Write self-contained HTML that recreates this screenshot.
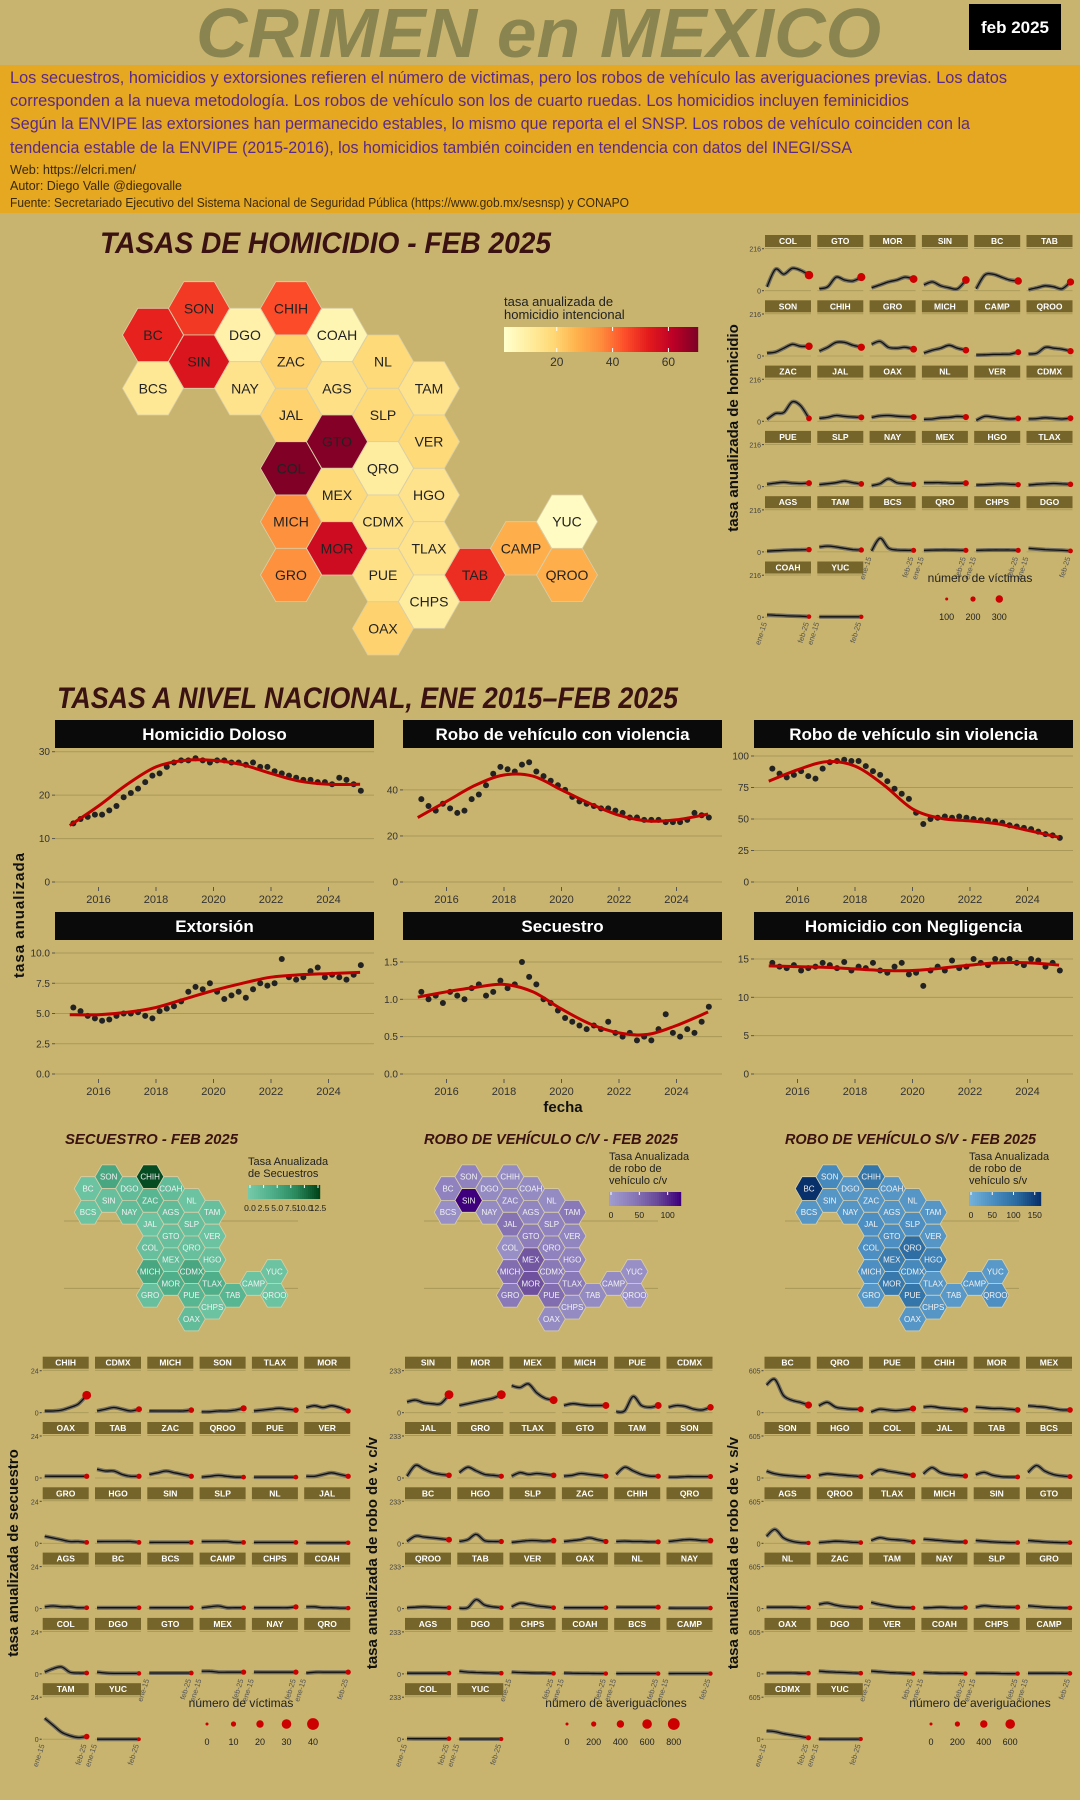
<!DOCTYPE html>
<html><head><meta charset="utf-8"><style>
html,body{margin:0;padding:0;background:#c8b46e;}
svg{display:block;font-family:"Liberation Sans",sans-serif;}
</style></head><body>
<svg id="page" xmlns="http://www.w3.org/2000/svg" width="1080" height="1800" viewBox="0 0 1080 1800">
<rect x="0" y="0" width="1080" height="1800" fill="#c8b46e"/>
<text x="196" y="57" font-size="70" font-weight="bold" font-style="italic" fill="#8a8450" textLength="685" lengthAdjust="spacingAndGlyphs">CRIMEN en MEXICO</text>
<rect x="969" y="4" width="92" height="46" fill="#000"/>
<text x="1015" y="33" font-size="17" font-weight="bold" fill="#fff" text-anchor="middle">feb 2025</text>
<rect x="0" y="65" width="1080" height="148" fill="#e6a820"/>
<g fill="#5a2a8a" font-size="17">
<text x="10" y="83" textLength="997" lengthAdjust="spacingAndGlyphs">Los secuestros, homicidios y extorsiones refieren el número de victimas, pero los robos de vehículo las averiguaciones previas. Los datos</text>
<text x="10" y="106" textLength="899" lengthAdjust="spacingAndGlyphs">corresponden a la nueva metodología. Los robos de vehículo son los de cuarto ruedas. Los homicidios incluyen feminicidios</text>
<text x="10" y="129" textLength="960" lengthAdjust="spacingAndGlyphs">Según la ENVIPE las extorsiones han permanecido estables, lo mismo que reporta el el SNSP. Los robos de vehículo coinciden con la</text>
<text x="10" y="153" textLength="842" lengthAdjust="spacingAndGlyphs">tendencia estable de la ENVIPE (2015-2016), los homicidios también coinciden en tendencia con datos del INEGI/SSA</text>
</g>
<g fill="#3a2a10" font-size="12.5">
<text x="10" y="174" textLength="126" lengthAdjust="spacingAndGlyphs">Web: https://elcri.men/</text>
<text x="10" y="190" textLength="172" lengthAdjust="spacingAndGlyphs">Autor: Diego Valle @diegovalle</text>
<text x="10" y="207" textLength="619" lengthAdjust="spacingAndGlyphs">Fuente: Secretariado Ejecutivo del Sistema Nacional de Seguridad Pública (https://www.gob.mx/sesnsp) y CONAPO</text>
</g>
<text x="100" y="253" font-size="30" font-weight="bold" font-style="italic" fill="#3a1212" textLength="451" lengthAdjust="spacingAndGlyphs">TASAS DE HOMICIDIO - FEB 2025</text>
<text x="57" y="708" font-size="30" font-weight="bold" font-style="italic" fill="#3a1212" textLength="621" lengthAdjust="spacingAndGlyphs">TASAS A NIVEL NACIONAL, ENE 2015–FEB 2025</text>
<text x="65" y="1144" font-size="15" font-weight="bold" font-style="italic" fill="#3a1212" textLength="173" lengthAdjust="spacingAndGlyphs">SECUESTRO - FEB 2025</text>
<text x="424" y="1144" font-size="15" font-weight="bold" font-style="italic" fill="#3a1212" textLength="254" lengthAdjust="spacingAndGlyphs">ROBO DE VEHÍCULO C/V - FEB 2025</text>
<text x="785" y="1144" font-size="15" font-weight="bold" font-style="italic" fill="#3a1212" textLength="251" lengthAdjust="spacingAndGlyphs">ROBO DE VEHÍCULO S/V - FEB 2025</text>
<g id="layer"></g>
</svg>
<script>
// ---------- DATA ----------
const hexStates = ["BC","SON","SIN","BCS","DGO","NAY","CHIH","ZAC","JAL","COAH","AGS","GTO","COL","MEX","MICH","GRO","MOR","NL","SLP","QRO","CDMX","PUE","OAX","TAM","VER","HGO","TLAX","CHPS","TAB","CAMP","YUC","QROO"];
const hexCol = [0,1,1,0,2,2,3,3,3,4,4,4,3,4,3,3,4,5,5,5,5,5,5,6,6,6,6,6,7,8,9,9];
const hexRow = [1,0,2,3,1,3,0,2,4,1,3,5,6,7,8,10,9,2,4,6,8,10,12,3,5,7,9,11,10,9,8,10];
const homRate = [52,48,55,12,8,14,45,20,20,6,15,70,72,18,35,35,58,18,18,10,15,15,20,14,18,14,14,10,50,28,3,28];
const kidRate = [1,5,1.5,1,2,2,12,3,1,2,2,1.5,1.5,2,5,1.5,4,1,1.5,1.5,5,3,2,1.5,1,1.5,4,1,3,1,1,1];
const cvRate = [30,30,120,15,20,20,20,25,45,20,25,35,15,70,50,40,75,20,30,30,40,50,20,40,25,30,40,20,20,20,15,15];
const svRate = [160,60,40,40,40,40,90,40,50,40,40,50,50,80,50,40,85,40,50,100,60,90,40,40,40,70,40,40,35,40,35,50];
const homLegendTicks = ["20","40","60"];
const years = ["2016","2018","2020","2022","2024"];
const natTitles = ["Homicidio Doloso","Robo de vehículo con violencia","Robo de vehículo sin violencia","Extorsión","Secuestro","Homicidio con Negligencia"];
const natTicks = [[0,10,20,30],[0,20,40],[0,25,50,75,100],[0,2.5,5,7.5,10],[0,0.5,1,1.5],[0,5,10,15]];
const natTickLabels = [["0","10","20","30"],["0","20","40"],["0","25","50","75","100"],["0.0","2.5","5.0","7.5","10.0"],["0.0","0.5","1.0","1.5"],["0","5","10","15"]];
const natMax = [30,56.6,103.4,10,1.62,15.78];
const hdPts = [13.5,14.5,15,15.5,15.5,16.5,17.5,19.5,20.5,21.5,23,24.5,25,26.5,27.5,28,28,28.5,28,27.5,28,28,27.5,27.5,27,27.5,26.5,26.5,25.5,25,24.5,24,23.5,23.5,23,23,22.5,24,23.5,22.5,21];
const hdTrend = [13,17.5,22.5,26.5,28,28,27,25,23.2,22.5,22.5];
const cvPts = [36,33,31,34,32,30,31,36,38,42,47,50,49,48,51,52,48,46,44,42,40,37,35,34,33,32,32,31,30,28,28,27,27,27,26,26,26,27,30,29,28];
const cvTrend = [28,35,42,46.5,46,40,34,29,26.5,27,29.5];
const svPts = [90,86,83,85,88,84,82,90,95,96,97,96,96,92,88,85,80,74,70,66,55,46,50,51,52,51,52,51,50,49,49,48,47,45,44,43,42,40,38,37,35];
const svTrend = [80,89,95.5,92,77,58,50.5,48.5,46,41,35.5];
const exPts = [5.5,5.2,4.8,4.6,4.4,4.5,4.8,5.0,5.0,5.1,4.8,4.6,5.2,5.4,5.6,6.0,6.8,7.2,7.0,7.5,6.8,6.2,6.5,6.8,6.3,7.0,7.5,7.3,7.5,9.5,8.0,7.8,8.0,8.5,8.8,8.0,8.2,8.0,7.8,8.2,9.0];
const exTrend = [4.9,4.9,5.1,5.5,6.2,6.9,7.5,8.0,8.2,8.3,8.4];
const sePts = [1.1,1.0,1.05,0.95,1.1,1.05,1.0,1.15,1.2,1.05,1.1,1.25,1.15,1.2,1.5,1.3,1.2,1.0,0.95,0.85,0.75,0.7,0.65,0.6,0.65,0.6,0.7,0.55,0.5,0.55,0.45,0.5,0.45,0.6,0.8,0.55,0.5,0.6,0.55,0.7,0.9];
const seTrend = [1.03,1.1,1.16,1.2,1.1,0.87,0.67,0.55,0.53,0.65,0.83];
const hnPts = [14.5,14,13.8,14.2,13.5,13.8,14,14.5,14.2,13.8,14.6,13.5,14,13.8,14.5,13.5,13.2,14,14.5,13,13.2,11.5,13.5,14,13.5,14.8,13.8,14,15,14.5,14.2,15,14.8,15,14.5,14.2,15,14.8,14,14.5,13.5];
const hnTrend = [14.1,14.0,13.9,13.7,13.5,13.5,13.8,14.2,14.5,14.5,14.2];
const natPts = [hdPts,cvPts,svPts,exPts,sePts,hnPts];
const natTrend = [hdTrend,cvTrend,svTrend,exTrend,seTrend,hnTrend];

const homOrder = ["COL","GTO","MOR","SIN","BC","TAB","SON","CHIH","GRO","MICH","CAMP","QROO","ZAC","JAL","OAX","NL","VER","CDMX","PUE","SLP","NAY","MEX","HGO","TLAX","AGS","TAM","BCS","QRO","CHPS","DGO","COAH","YUC"];
const homSeries = {COL:[20,110,85,115,105,80],GTO:[10,20,70,55,50,70],MOR:[15,30,45,55,70,60],SIN:[30,45,25,15,10,55],BC:[10,80,85,70,55,50],TAB:[5,15,25,20,10,45],SON:[15,20,40,60,50,50],CHIH:[25,45,70,70,55,45],GRO:[60,75,45,40,45,35],MICH:[15,30,40,55,40,30],CAMP:[5,6,8,9,10,20],QROO:[10,15,45,40,35,25],ZAC:[10,40,45,100,80,15],JAL:[15,20,30,25,22,20],OAX:[20,28,30,26,24,22],NL:[10,12,18,20,25,22],VER:[5,25,22,16,12,15],CDMX:[12,14,18,15,12,16],PUE:[12,18,22,18,16,18],SLP:[10,15,20,28,20,14],NAY:[5,15,40,20,15,12],MEX:[20,20,20,18,17,18],HGO:[8,10,12,14,12,10],TLAX:[8,12,14,16,14,12],AGS:[4,6,8,10,11,12],TAM:[25,30,25,18,12,10],BCS:[5,70,20,10,8,8],QRO:[8,9,10,10,9,8],CHPS:[8,9,10,10,10,8],DGO:[18,15,12,10,8,5],COAH:[12,10,8,6,5,3],YUC:[2,2,2,2,2,2]};
const kidOrder = ["CHIH","CDMX","MICH","SON","TLAX","MOR","OAX","TAB","ZAC","QROO","PUE","VER","GRO","HGO","SIN","SLP","NL","JAL","AGS","BC","BCS","CAMP","CHPS","COAH","COL","DGO","GTO","MEX","NAY","QRO","TAM","YUC"];
const kidSeries = {CHIH:[1,1,1.5,3,5,10],CDMX:[1,2,3,2,1,2],MICH:[1,1,1,1,1,1.5],SON:[0.5,0.5,1,1,1.5,2.5],TLAX:[1,1.5,2,2.5,2,1.5],MOR:[3,4,3,4,3,1],OAX:[1,1,1,1,1,1],TAB:[5,4,4,2,1,1],ZAC:[2,3,4,3,2,1],QROO:[0.5,1,1.5,1,0.5,0.5],PUE:[0.5,0.5,0.5,0.5,0.5,0.5],VER:[1,1,2,3,2,1],GRO:[4,3,2,1,1,0.5],HGO:[1,1,1,1,1,0.5],SIN:[0.5,0.5,0.5,0.5,0.5,0.5],SLP:[1,1,1,1,0.5,0.5],NL:[0.5,0.5,0.5,0.5,0.5,0.5],JAL:[0.3,0.3,0.3,0.3,0.3,0.3],AGS:[1,1.5,1,1,0.5,0.5],BC:[0.5,0.5,0.5,0.5,0.5,0.5],BCS:[0.5,0.5,0.5,0.5,0.5,0.5],CAMP:[0.5,1,1.5,0.5,0.5,0.5],CHPS:[0.5,0.5,0.5,0.5,0.5,1],COAH:[1,1,0.5,0.5,0.3,0.3],COL:[1,3,4,1,0.5,0.5],DGO:[1,0.5,0.3,0.3,0.3,0.3],GTO:[0.5,0.5,0.5,0.5,0.5,0.5],MEX:[1.5,1.5,1,1,1,1],NAY:[1,1,1,1,1,1],QRO:[0.5,1,1,1,1,1],TAM:[12,8,4,2,1,1.5],YUC:[0,0,0,0,0,0]};
const cvOrder = ["SIN","MOR","MEX","MICH","PUE","CDMX","JAL","GRO","TLAX","GTO","TAM","SON","BC","HGO","SLP","ZAC","CHIH","QRO","QROO","TAB","VER","OAX","NL","NAY","AGS","DGO","CHPS","COAH","BCS","CAMP","COL","YUC"];
const cvSeries = {SIN:[60,70,55,50,50,100],MOR:[40,50,60,70,80,100],MEX:[150,140,160,110,80,70],MICH:[40,50,45,40,40,40],PUE:[5,10,90,40,30,40],CDMX:[30,40,35,20,15,30],JAL:[10,70,50,30,20,15],GRO:[30,60,40,20,15,10],TLAX:[10,30,20,25,20,15],GTO:[10,15,25,20,15,10],TAM:[20,60,40,20,10,10],SON:[5,5,8,8,8,8],BC:[10,40,35,30,25,20],HGO:[10,20,50,15,10,10],SLP:[5,10,15,15,12,15],ZAC:[10,15,20,30,20,10],CHIH:[10,12,10,10,8,8],QRO:[10,15,20,20,15,15],QROO:[5,8,10,8,6,5],TAB:[2,5,50,20,10,5],VER:[10,30,25,15,10,5],OAX:[5,5,5,5,5,5],NL:[8,8,8,8,8,8],NAY:[3,3,3,3,3,3],AGS:[4,4,4,4,4,4],DGO:[15,10,8,6,5,4],CHPS:[10,8,6,5,5,3],COAH:[5,4,3,3,2,2],BCS:[2,2,2,2,2,2],CAMP:[2,2,2,2,2,2],COL:[3,3,3,3,3,3],YUC:[1,1,1,1,1,1]};
const svOrder = ["BC","QRO","PUE","CHIH","MOR","MEX","SON","HGO","COL","JAL","TAB","BCS","AGS","QROO","TLAX","MICH","SIN","GTO","NL","ZAC","TAM","NAY","SLP","GRO","OAX","DGO","VER","COAH","CHPS","CAMP","CDMX","YUC"];
const svSeries = {BC:[400,480,250,180,150,110],QRO:[100,150,80,60,50,50],PUE:[10,50,40,30,40,60],CHIH:[80,90,70,60,50,40],MOR:[80,70,60,60,50,40],MEX:[100,90,80,60,40,40],SON:[100,60,40,30,20,20],HGO:[40,60,50,40,30,20],COL:[50,120,100,80,60,40],JAL:[60,150,80,50,40,30],TAB:[50,80,40,20,15,15],BCS:[80,180,100,50,30,20],AGS:[100,200,80,30,10,5],QROO:[10,20,30,25,15,10],TLAX:[40,80,60,50,40,20],MICH:[60,50,40,30,20,20],SIN:[40,30,20,15,10,10],GTO:[40,30,20,15,10,10],NL:[20,20,20,20,15,15],ZAC:[60,80,50,30,20,15],TAM:[90,60,40,20,15,10],NAY:[10,15,20,15,10,15],SLP:[20,40,30,25,20,20],GRO:[40,30,20,15,10,10],OAX:[15,15,15,15,10,10],DGO:[40,30,25,20,15,10],VER:[40,30,20,15,10,5],COAH:[20,15,10,10,8,5],CHPS:[10,10,8,6,5,5],CAMP:[10,10,10,10,8,8],CDMX:[120,110,80,60,40,20],YUC:[2,2,2,2,2,2]};
const sizeLegend1 = ["100","200","300"];
const sizeLegend2 = ["0","10","20","30","40"];
const sizeLegend3 = ["0","200","400","600","800"];
const sizeLegend4 = ["0","200","400","600"];

// ---------- HELPERS ----------
const NS = "http://www.w3.org/2000/svg";
const layer = document.getElementById("layer");
function mk(tag, attrs, parent){ const e=document.createElementNS(NS,tag); for(const k in attrs) e.setAttribute(k,attrs[k]); (parent||layer).appendChild(e); return e; }
function txt(s,attrs,parent){ const e=mk("text",attrs,parent); e.textContent=s; return e; }
function lerpHex(a,b,t){ const pa=[1,3,5].map(i=>parseInt(a.substr(i,2),16)), pb=[1,3,5].map(i=>parseInt(b.substr(i,2),16)); return "rgb("+pa.map((v,i)=>Math.round(v+(pb[i]-v)*t)).join(",")+")"; }
function ramp(stops,t){ t=Math.max(0,Math.min(1,t)); const n=stops.length-1, i=Math.min(n-1,Math.floor(t*n)); return lerpHex(stops[i],stops[i+1],t*n-i); }
const ylorrd=["#ffffcc","#ffeda0","#fed976","#feb24c","#fd8d3c","#fc4e2a","#e31a1c","#bd0026","#800026"];
const greens=["#74c9a8","#4fae8a","#2a8a5e","#00441b"];
const purples=["#a09cce","#8a79b8","#6a4a9a","#3f007d"];
const blues=["#74b1da","#4a8dc0","#2a6aa0","#08306b"];
function hexPts(cx,cy,w,h){ return [[cx-w/2,cy],[cx-w/4,cy-h/2],[cx+w/4,cy-h/2],[cx+w/2,cy],[cx+w/4,cy+h/2],[cx-w/4,cy+h/2]].map(p=>p[0].toFixed(1)+","+p[1].toFixed(1)).join(" "); }
function smooth(pts){ let d="M"+pts[0][0]+","+pts[0][1]; for(let i=0;i<pts.length-1;i++){ const p0=pts[Math.max(0,i-1)],p1=pts[i],p2=pts[i+1],p3=pts[Math.min(pts.length-1,i+2)]; const c1=[p1[0]+(p2[0]-p0[0])/6,p1[1]+(p2[1]-p0[1])/6], c2=[p2[0]-(p3[0]-p1[0])/6,p2[1]-(p3[1]-p1[1])/6]; d+=" C"+c1[0].toFixed(1)+","+c1[1].toFixed(1)+" "+c2[0].toFixed(1)+","+c2[1].toFixed(1)+" "+p2[0].toFixed(1)+","+p2[1].toFixed(1);} return d; }

// ---------- HEX MAPS ----------
function hexMap(name, ox, oy, cs, rs, w, h, vals, vmin, vmax, stops, fs, lblColor){
  const g=mk("g",{});
  
  
  hexStates.forEach((s,i)=>{
    const cx=ox+hexCol[i]*cs, cy=oy+hexRow[i]*rs;
    const p=mk("polygon",{points:hexPts(cx,cy,w,h),fill:ramp(stops,(vals[i]-vmin)/(vmax-vmin)),stroke:"#d9cfa8","stroke-width":0.8},g);
    
    
    const t=txt(s,{x:cx,y:cy+fs*0.36,"font-size":fs,"text-anchor":"middle",fill:lblColor},g);
    
    
  });
}
hexMap("homicide-hex-map",153,308.3,46,26.67,61,53.3,homRate,1.1,70.6,ylorrd,14,"#222");
// homicide legend
(function(){
  const g=mk("g",{});
  
  
  txt("tasa anualizada de",{x:504,y:306,"font-size":13,fill:"#222"},g);
  txt("homicidio intencional",{x:504,y:319,"font-size":13,fill:"#222"},g);
  for(let i=0;i<97;i++){ mk("rect",{x:504+i*2,y:327,width:2.2,height:25,fill:ramp(ylorrd,i/96)},g); }
  homLegendTicks.forEach(v=>{ const x=504+(+v-1.1)/(70.6-1.1)*194; mk("line",{x1:x,x2:x,y1:327,y2:331,stroke:"#fff"},g); mk("line",{x1:x,x2:x,y1:348,y2:352,stroke:"#fff"},g); txt(v,{x:x,y:366,"font-size":12,"text-anchor":"middle",fill:"#333"},g); });
})();
const smY=[1120+303/3,1120+505/3];
[[88,greens,kidRate,0,12.5,"kidnap-hex-map"],[448,purples,cvRate,0,120,"violent-car-hex-map"],[809,blues,svRate,0,160,"nonviolent-car-hex-map"]].forEach(m=>{
  smY.forEach(y=>{ const l=mk("line",{x1:m[0]-24,x2:m[0]+210,y1:y,y2:y,stroke:"#a8995a","stroke-width":1});
    
     });
  hexMap(m[5],m[0],1176.7,20.7,11.86,27.5,23.7,m[2],m[3],m[4],m[1],8,"#f2f2f2");
});
function smallLegend(name,x,titleLines,stops,ticks,tmax){
  const g=mk("g",{});
  
  
  const ty=titleLines.length==2?1165:1160;
  titleLines.forEach((s,i)=>txt(s,{x:x,y:ty+i*12,"font-size":11,fill:"#222"},g));
  const y0=titleLines.length==2?1185:1192;
  for(let i=0;i<36;i++) mk("rect",{x:x+i*2,y:y0,width:2.2,height:14,fill:ramp(stops,i/35)},g);
  ticks.forEach(v=>{ const xx=x+2+(+v)/tmax*68; txt(v,{x:xx,y:y0+26,"font-size":8.5,"text-anchor":"middle",fill:"#222"},g); mk("line",{x1:xx,x2:xx,y1:y0,y2:y0+3,stroke:"#fff"},g); });
}
smallLegend("kidnap-legend",248,["Tasa Anualizada","de Secuestros"],greens,["0.0","2.5","5.0","7.5","10.0","12.5"],12.5);
smallLegend("violent-car-legend",609,["Tasa Anualizada","de robo de","vehículo c/v"],purples,["0","50","100"],120);
smallLegend("nonviolent-car-legend",969,["Tasa Anualizada","de robo de","vehículo s/v"],blues,["0","50","100","150"],160);

// ---------- NATIONAL PANELS ----------
const colOff=[0,348,699];
natTitles.forEach((title,pi)=>{
  const col=pi%3,row=Math.floor(pi/3);
  const ox=colOff[col];
  const stripY=row?912:720, yTop=row?953:751.7, y0=row?1074:882, xlY=row?1091:899;
  const g=mk("g",{});
  
  
  const st=mk("rect",{x:55+ox,y:stripY,width:319,height:28,fill:"#0a0a0a"},g);
  
  
  txt(title,{x:214.5+ox,y:stripY+20,"font-size":17,"font-weight":"bold","text-anchor":"middle",fill:"#fff"},g);
  const max=natMax[pi];
  const ys=v=>y0-(v/max)*(y0-yTop);
  const xs=yr=>ox+98.5+(yr-2016)*28.75;
  natTicks[pi].forEach((v,k)=>{ const y=ys(v);
    mk("line",{x1:55+ox,x2:374+ox,y1:y,y2:y,stroke:"#a8995a","stroke-width":1},g);
    mk("line",{x1:52+ox,x2:55+ox,y1:y,y2:y,stroke:"#555"},g);
    txt(natTickLabels[pi][k],{x:50+ox,y:y+3.5,"font-size":10,"text-anchor":"end",fill:"#333"},g); });
  years.forEach(yl=>{ const x=xs(+yl); mk("line",{x1:x,x2:x,y1:y0+5,y2:y0+9,stroke:"#555"},g); txt(yl,{x:x,y:xlY+4,"font-size":11,"text-anchor":"middle",fill:"#333"},g); });
  natPts[pi].forEach((v,q)=>{ const c=mk("circle",{cx:xs(2015+q/4+0.125),cy:ys(v),r:3,fill:"#222"},g);
    
     });
  const tp=natTrend[pi].map((v,i)=>[xs(i<10?2015+i:2025.1),ys(v)]);
  const tl=mk("path",{d:smooth(tp),fill:"none",stroke:"#c00000","stroke-width":3},g);
  
  
});
txt("tasa anualizada",{x:0,y:0,transform:"translate(24,915) rotate(-90)","font-size":15,"font-weight":"bold","text-anchor":"middle",fill:"#111","letter-spacing":"1"});
txt("fecha",{x:563,y:1112,"font-size":15,"font-weight":"bold","text-anchor":"middle",fill:"#111"});

// ---------- SMALL MULTIPLES ----------
function smGrid(name,order,series,ymax,ytick,x0,stripY0,zeroY0,topY0,ylabel,ylabX,ylabY,xlabRow){
  const g=mk("g",{});
  
  
  order.forEach((s,i)=>{
    const c=i%6,r=Math.floor(i/6);
    const px=x0+c*52.3, sy=stripY0+r*65.3, zy=zeroY0+r*65.3, ty=topY0+r*65.3;
    const st=mk("rect",{x:px,y:sy,width:46,height:12,fill:"#76652a"},g);
    
    
    txt(s,{x:px+23,y:sy+9,"font-size":8.5,"font-weight":"bold","text-anchor":"middle",fill:"#fff"},g);
    mk("line",{x1:px,x2:px+46,y1:sy+13.5,y2:sy+13.5,stroke:"#a8995a","stroke-width":1},g);
    mk("line",{x1:px,x2:px+46,y1:zy,y2:zy,stroke:"#a8995a","stroke-width":0.8},g);
    if(c===0){ txt(ytick,{x:px-4,y:ty+3,"font-size":7,"text-anchor":"end",fill:"#444"},g); txt("0",{x:px-4,y:zy+3,"font-size":7,"text-anchor":"end",fill:"#444"},g);
      mk("line",{x1:px-3,x2:px-1,y1:ty,y2:ty,stroke:"#444"},g); mk("line",{x1:px-3,x2:px-1,y1:zy,y2:zy,stroke:"#444"},g); }
    const vals=series[s];
    const pts=vals.map((v,k)=>[px+2+k*42/(vals.length-1), zy-Math.min(v,ymax)/ymax*(zy-ty)]);
    const band=mk("path",{d:smooth(pts),fill:"none",stroke:"#5a5a5a","stroke-width":4,"stroke-opacity":0.8},g);
    
    
    const ln=mk("path",{d:smooth(pts),fill:"none",stroke:"#111","stroke-width":1.3},g);
    
    
    const last=vals[vals.length-1];
    const dot=mk("circle",{cx:pts[pts.length-1][0],cy:pts[pts.length-1][1],r:1.8+Math.sqrt(last/ymax)*4,fill:"#cc0000"},g);
    
    
    const lastRow=(r===xlabRow && c>=2)||(r===xlabRow+1);
    if(lastRow){ [["ene-15",px+2],["feb-25",px+44]].forEach(a=>{ txt(a[0],{x:0,y:0,transform:"translate("+a[1]+","+(zy+6)+") rotate(-72)","font-size":7.5,"text-anchor":"end",fill:"#555"},g); }); }
  });
  txt(ylabel,{x:0,y:0,transform:"translate("+ylabX+","+ylabY+") rotate(-90)","font-size":15,"font-weight":"bold","text-anchor":"middle",fill:"#111"},g);
}
smGrid("homicide-small-multiples",homOrder,homSeries,216,"216",765,235,290.7,248.7,"tasa anualizada de homicidio",738,428,4);
smGrid("kidnap-small-multiples",kidOrder,kidSeries,24,"24",42.7,1356.7,1412.7,1370.7,"tasa anualizada de secuestro",18,1553,4);
smGrid("violent-car-small-multiples",cvOrder,cvSeries,233,"233",405,1356.7,1412.7,1370.7,"tasa anualizada de robo de v. c/v",377,1553,4);
smGrid("nonviolent-car-small-multiples",svOrder,svSeries,605,"605",764.5,1356.7,1412.7,1370.7,"tasa anualizada de robo de v. s/v",738,1553,4);

function sizeLegend(name,title,cx,ty,labels,x0,step,dy){
  const g=mk("g",{});
  
  
  txt(title,{x:cx,y:ty,"font-size":12,"text-anchor":"middle",fill:"#222"},g);
  labels.forEach((l,i)=>{ const x=x0+i*step;
    const c=mk("circle",{cx:x,cy:ty+dy,r:1.5+i*1.1,fill:"#cc0000"},g);
    
    
    txt(l,{x:x,y:ty+dy+21,"font-size":9,"text-anchor":"middle",fill:"#222"},g); });
}
sizeLegend("homicide-size-legend","número de víctimas",980,582,sizeLegend1,946.7,26.3,17);
sizeLegend("kidnap-size-legend","número de víctimas",241,1707,sizeLegend2,207,26.5,17);
sizeLegend("violent-car-size-legend","número de averiguaciones",616,1707,sizeLegend3,567,26.7,17);
sizeLegend("nonviolent-car-size-legend","número de averiguaciones",980,1707,sizeLegend4,931,26.4,17);
</script>
</body></html>
